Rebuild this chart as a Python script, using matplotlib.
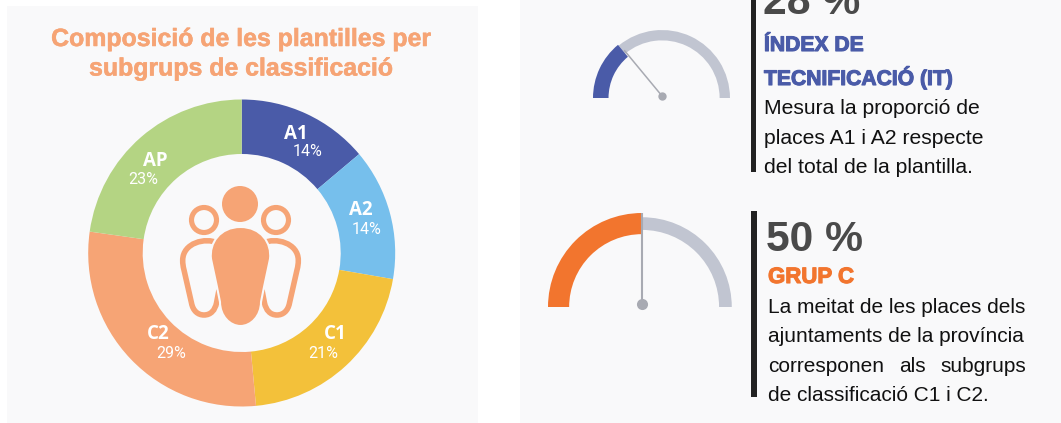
#!/usr/bin/python
import numpy as np
import matplotlib
matplotlib.use("Agg")
import matplotlib.pyplot as plt
import matplotlib.patheffects as pe
from matplotlib.patches import Circle, PathPatch, Rectangle
from matplotlib.path import Path

W, H = 1061, 423
BG = "#f9f9fa"
ORANGE = "#f6a475"

# donut values
groups = ["A1", "A2", "C1", "C2", "AP"]
shares = [14, 14, 21, 29, 23]
group_colors = ["#4a5ba8", "#76bfec", "#f3c13a", "#f6a475", "#b4d483"]

# gauges
gauge_values = [28, 50]
gauge_colors = ["#4a5ba8", "#f2752e"]
gauge_labels = ["28 %", "50 %"]

title_lines = ["Composició de les plantilles per", "subgrups de classificació"]
heading_1 = ["ÍNDEX DE", "TECNIFICACIÓ (IT)"]
body_1 = ["Mesura la proporció de", "places A1 i A2 respecte", "del total de la plantilla."]
heading_2 = ["GRUP C"]
body_2 = ["La meitat de les places dels", "ajuntaments de la província"]
body_2_spread = ["corresponen", "als", "subgrups"]
body_2_last = "de classificació C1 i C2."

plt.rcParams["font.family"] = ["Liberation Sans", "DejaVu Sans"]

fig = plt.figure(figsize=(W / 100, H / 100), dpi=100, facecolor="white")
# pixel canvas for panels, text and the icon
bg = fig.add_axes([0, 0, 1, 1])
bg.set_xlim(0, W)
bg.set_ylim(H, 0)
bg.axis("off")


def px_axes(cx, cy, r):
    ax = fig.add_axes([(cx - r) / W, 1 - (cy + r) / H, 2 * r / W, 2 * r / H])
    ax.axis("off")
    ax.patch.set_alpha(0)
    return ax


bg.add_patch(Rectangle((7, 6), 471, 417, color=BG, lw=0))
bg.add_patch(Rectangle((520, 0), 541, 423, color=BG, lw=0))

for i, line in enumerate(title_lines):
    bg.text(241, 39 + i * 29.5, line, ha="center", va="center", fontsize=17.9,
            fontweight="bold", color=ORANGE,
            path_effects=[pe.withStroke(linewidth=0.4, foreground=ORANGE)])

# donut
donut = px_axes(241.7, 253, 153.5)
donut.pie(shares, colors=group_colors, startangle=90, counterclock=False, radius=1,
          wedgeprops=dict(width=0.355, lw=0))
donut.set_xlim(-1, 1)
donut.set_ylim(-1, 1)

# overlay for the donut labels and the people icon
icon = fig.add_axes([0, 0, 1, 1], zorder=5)
icon.set_xlim(0, W)
icon.set_ylim(H, 0)
icon.axis("off")
icon.patch.set_alpha(0)

label_pos = [(296, 134), (361, 210), (335, 334), (158, 334), (155, 161)]
pct_pos = [(308, 151), (367, 229), (323, 353), (171, 353), (143, 179)]
for name, share, lp, pp in zip(groups, shares, label_pos, pct_pos):
    icon.text(*lp, name, ha="center", va="center", fontsize=13.5, fontweight="bold",
              family="Open Sans", color="white")
    icon.text(*pp, f"{share}%", ha="center", va="center", fontsize=11.5,
              family="Roboto", color="white")

icon.add_patch(Circle((240, 204), 18, color=ORANGE, lw=0))
for x in (204, 276):
    icon.add_patch(Circle((x, 220), 12.5, fc="none", ec=ORANGE, lw=3.7))

M, L, C = Path.MOVETO, Path.LINETO, Path.CURVE4
side_verts = [(218, 243), (205, 237), (183, 243), (182.7, 260), (182.7, 264), (183, 266), (184, 270),
              (191.5, 303), (193, 311), (198, 315), (204, 315), (211, 315), (215, 310), (216.5, 303),
              (219, 290)]
side_codes = [M, C, C, C, C, C, C, L, C, C, C, C, C, C, L]
for s in (0, 1):
    verts = [(481 - x, y) if s else (x, y) for x, y in side_verts]
    icon.add_patch(PathPatch(Path(verts, side_codes), fc="none", ec=ORANGE, lw=4))

body_verts = [(240.5, 227), (261, 227), (272, 243), (270, 259), (264, 287), (261, 302), (261, 316),
              (251, 326), (240.5, 326), (230, 326), (220, 316), (220, 302), (217, 287), (211, 259),
              (209, 243), (220, 227), (240.5, 227)]
body_codes = [M, C, C, C, L, L, C, C, C, C, C, C, L, L, C, C, C]
icon.add_patch(PathPatch(Path(body_verts, body_codes), fc=ORANGE, ec=BG, lw=1.5))


def gauge(cx, cy, r, value, color, grey_r, grey_w, col_w, needle, dot_r):
    ax = px_axes(cx, cy, r)
    ax.pie([value, 100 - value, 100], colors=["none", "#c1c5d1", "none"], startangle=180,
           counterclock=False, radius=grey_r, wedgeprops=dict(width=grey_w, lw=0))
    ax.pie([value, 100 - value, 100], colors=[color, "none", "none"], startangle=180,
           counterclock=False, radius=1, wedgeprops=dict(width=col_w, lw=0))
    ang = np.pi * (1 - value / 100)
    ax.plot([0, needle * np.cos(ang)], [0.03, 0.03 + needle * np.sin(ang)], color="#a8aab2",
            lw=1.1 if value < 50 else 1.5, solid_capstyle="butt")
    ax.plot([0], [0.03], "o", ms=dot_r, color="#a8aab2", mew=0)
    ax.set_xlim(-1, 1)
    ax.set_ylim(-1, 1)


gauge(662, 98, 69, gauge_values[0], gauge_colors[0], 0.985, 0.15, 0.225, 0.86, 6)
gauge(642, 307, 94, gauge_values[1], gauge_colors[1], 0.955, 0.135, 0.225, 1.02, 8)

# right column
bg.add_patch(Rectangle((751, 0), 5, 172, color="#222222", lw=0))
bg.add_patch(Rectangle((751, 211), 6, 186, color="#222222", lw=0))

bg.text(763, 14, gauge_labels[0], ha="left", va="baseline", fontsize=30.7, fontweight="bold", color="#4a4a4a")
bg.text(766, 251, gauge_labels[1], ha="left", va="baseline", fontsize=30.7, fontweight="bold", color="#4a4a4a")

for i, line in enumerate(heading_1):
    bg.text(764, 51 + i * 34, line, ha="left", va="baseline", fontsize=15.2, fontweight="bold",
            color=gauge_colors[0], path_effects=[pe.withStroke(linewidth=0.8, foreground=gauge_colors[0])])
bg.text(768, 283, heading_2[0], ha="left", va="baseline", fontsize=16, fontweight="bold",
        color=gauge_colors[1], path_effects=[pe.withStroke(linewidth=0.8, foreground=gauge_colors[1])])

for i, line in enumerate(body_1):
    bg.text(764, 114 + i * 29.5, line, ha="left", va="baseline", fontsize=15.2, color="#111111")
for i, line in enumerate(body_2):
    bg.text(768, 313 + i * 29.5, line, ha="left", va="baseline", fontsize=15, color="#111111")
bg.text(768, 372, body_2_spread[0], ha="left", va="baseline", fontsize=15, color="#111111")
bg.text(912, 372, body_2_spread[1], ha="center", va="baseline", fontsize=15, color="#111111")
bg.text(1026, 372, body_2_spread[2], ha="right", va="baseline", fontsize=15, color="#111111")
bg.text(768, 401, body_2_last, ha="left", va="baseline", fontsize=15, color="#111111")

fig.savefig("out.png", dpi=100)
